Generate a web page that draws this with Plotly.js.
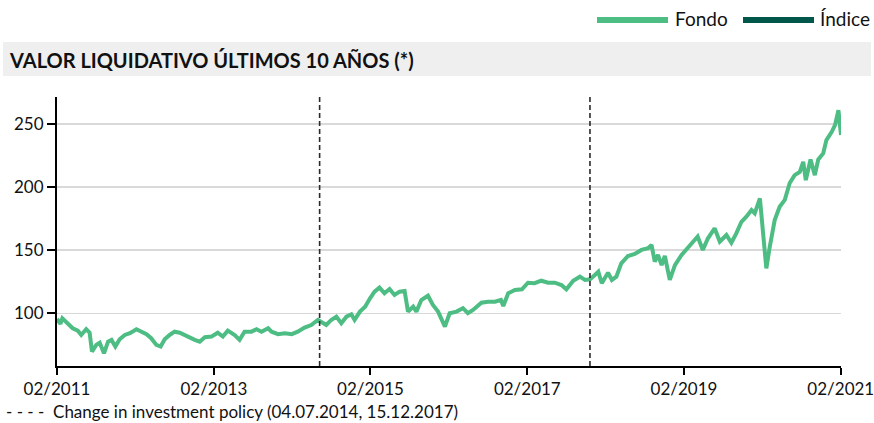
<!DOCTYPE html>
<html>
<head>
<meta charset="utf-8">
<script src="https://cdn.plot.ly/plotly-3.0.1.min.js"></script>
<style>
html,body{margin:0;padding:0;background:#fff;}
#chart{width:874px;height:423px;}
</style>
</head>
<body>
<div id="chart"></div>
<script>
// ---- Data ----
const fondoDates = [
 '2011-02-26','2011-03-14','2011-03-23','2011-04-10','2011-04-25','2011-05-10','2011-06-03','2011-06-19','2011-07-12','2011-07-28',
 '2011-08-08','2011-08-28','2011-09-13','2011-10-03','2011-10-22','2011-11-07','2011-11-25','2011-12-15','2012-01-08','2012-02-01',
 '2012-03-02','2012-03-25','2012-04-18','2012-05-10','2012-06-03','2012-06-23','2012-07-12','2012-08-04','2012-08-27','2012-09-20',
 '2012-10-13','2012-11-06','2012-11-29','2012-12-22','2013-01-15','2013-02-15','2013-03-16','2013-04-09','2013-05-02','2013-06-03',
 '2013-06-26','2013-07-19','2013-08-20','2013-09-13','2013-10-06','2013-11-06','2013-11-22','2013-12-22','2014-01-23','2014-02-24',
 '2014-03-24','2014-04-25','2014-05-26','2014-06-26','2014-07-19','2014-08-04','2014-08-27','2014-09-20','2014-10-13','2014-11-06',
 '2014-11-29','2014-12-14','2015-01-08','2015-02-01','2015-02-24','2015-03-17','2015-04-09','2015-05-02','2015-05-26','2015-06-18',
 '2015-07-12','2015-08-04','2015-08-20','2015-09-13','2015-09-28','2015-10-21','2015-11-21','2015-12-14','2016-01-07','2016-02-08',
 '2016-03-01','2016-04-02','2016-05-02','2016-05-25','2016-06-18','2016-07-11','2016-07-27','2016-08-27','2016-09-28','2016-10-26',
 '2016-11-06','2016-11-29','2016-12-30','2017-02-01','2017-03-01','2017-04-01','2017-05-02','2017-06-03','2017-07-04','2017-08-04',
 '2017-08-27','2017-09-28','2017-10-29','2017-11-22','2017-12-15','2018-01-07','2018-01-23','2018-02-08','2018-02-27','2018-03-09',
 '2018-03-27','2018-04-17','2018-05-10','2018-06-10','2018-07-12','2018-08-12','2018-09-12','2018-09-28','2018-10-13','2018-10-28',
 '2018-11-14','2018-11-29','2018-12-22','2019-01-15','2019-02-15','2019-03-16','2019-04-09','2019-05-01','2019-05-25','2019-06-18',
 '2019-07-19','2019-08-12','2019-09-12','2019-10-05','2019-10-28','2019-11-21','2019-12-14','2020-01-07','2020-01-22','2020-02-15',
 '2020-03-01','2020-03-16','2020-04-01','2020-04-24','2020-05-17','2020-06-10','2020-07-03','2020-07-26','2020-08-19','2020-09-04',
 '2020-09-16','2020-10-08','2020-10-28','2020-11-13','2020-12-06','2020-12-21','2021-01-15','2021-01-30','2021-02-15','2021-02-27'
];
const fondoValues = [
 95.5, 91.5, 96.0, 92.6, 90.7, 88.1, 86.2, 82.8, 87.3, 84.6,
 69.6, 74.9, 76.7, 68.3, 77.5, 78.9, 73.6, 79.4, 82.8, 84.2,
 87.3, 85.4, 83.4, 80.2, 74.9, 73.6, 79.4, 82.8, 85.4, 84.6,
 82.8, 80.2, 78.9, 77.5, 81.0, 81.5, 84.6, 81.5, 86.2, 82.8,
 78.9, 85.4, 85.4, 87.3, 85.4, 88.1, 85.4, 83.4, 84.2, 83.4,
 85.4, 88.6, 90.7, 94.7, 92.1, 90.7, 94.7, 97.3, 92.1, 97.3,
 99.2, 94.7, 101.3, 105.2, 111.9, 117.1, 120.3, 115.8, 119.2, 114.5,
 117.1, 117.7, 101.3, 105.2, 101.3, 110.5, 113.9, 106.6, 101.3, 89.4,
 100.0, 101.3, 104.0, 100.0, 102.6, 106.6, 108.4, 109.2, 109.2, 110.5,
 105.8, 115.8, 118.4, 119.0, 124.2, 123.8, 125.8, 124.2, 124.2, 122.4,
 119.0, 125.8, 129.0, 126.4, 126.9, 130.3, 132.9, 123.8, 130.3, 132.1,
 126.4, 129.0, 139.6, 145.4, 147.0, 150.2, 151.5, 154.1, 140.9, 146.2,
 138.2, 145.4, 126.4, 138.2, 146.2, 152.3, 156.8, 160.8, 150.2, 159.4,
 167.3, 156.8, 162.0, 155.9, 163.3, 172.5, 176.5, 181.8, 179.2, 191.1,
 163.3, 135.6, 152.7, 173.9, 184.4, 189.9, 203.2, 209.5, 212.1, 220.0,
 205.5, 221.9, 209.5, 221.9, 226.7, 237.2, 243.8, 249.1, 261.0, 241.2
];
const policyChangeDates = ['2014-07-04', '2017-12-15'];
const xTickVals = ['2011-02-26','2013-02-26','2015-02-26','2017-02-26','2019-02-26','2021-02-26'];
const xTickText = ['02/2011','02/2013','02/2015','02/2017','02/2019','02/2021'];
const yTickVals = [100, 150, 200, 250];
const seriesNames = ['Fondo', 'Índice'];
const titleText = 'VALOR LIQUIDATIVO ÚLTIMOS 10 AÑOS (*)';
const footnoteText = '- - - -  Change in investment policy (04.07.2014, 15.12.2017)';

// ---- Styling ----
const FONT = 'Lato, "Open Sans", sans-serif';
const fondoColor = '#4dbd84';
const indiceColor = '#00574a';

// plot area in pixels: x 57..841, y 97..366
const L = 57, R = 841, T = 97, B = 366;
const px = v => (v - L) / (R - L);
const py = v => (B - v) / (B - T);

const traces = [{
  type: 'scatter',
  mode: 'lines',
  name: seriesNames[0],
  x: fondoDates,
  y: fondoValues,
  line: {color: fondoColor, width: 4},
  showlegend: false,
  hoverinfo: 'x+y'
}];

const shapes = [];
// title bar
shapes.push({type:'rect', xref:'paper', yref:'paper', x0:px(3), x1:px(871), y0:py(76), y1:py(42),
  fillcolor:'#efefef', line:{width:0}, layer:'below'});
// policy change lines
policyChangeDates.forEach(d => shapes.push({
  type:'line', xref:'x', yref:'paper', x0:d, x1:d, y0:0, y1:1,
  line:{color:'#2a2a2a', width:1.6, dash:'5px,3px'}
}));
// legend samples
shapes.push({type:'line', xref:'paper', yref:'paper', x0:px(597), x1:px(668), y0:py(20), y1:py(20),
  line:{color:fondoColor, width:6}});
shapes.push({type:'line', xref:'paper', yref:'paper', x0:px(743), x1:px(814), y0:py(20), y1:py(20),
  line:{color:indiceColor, width:6}});

const annotations = [
  {xref:'paper', yref:'paper', x:px(7), y:py(60), xanchor:'left', yanchor:'middle', showarrow:false,
   text:'<b>'+titleText+'</b>', font:{family:FONT, size:20, color:'#111'}},
  {xref:'paper', yref:'paper', x:px(673), y:py(19), xanchor:'left', yanchor:'middle', showarrow:false,
   text:seriesNames[0], font:{family:FONT, size:19, color:'#111'}},
  {xref:'paper', yref:'paper', x:px(818), y:py(19), xanchor:'left', yanchor:'middle', showarrow:false,
   text:seriesNames[1], font:{family:FONT, size:19, color:'#111'}},
  {xref:'paper', yref:'paper', x:px(4), y:py(411), xanchor:'left', yanchor:'middle', showarrow:false,
   text:footnoteText, font:{family:FONT, size:17, color:'#111'}}
];

const layout = {
  width: 874, height: 423,
  margin: {l: L, r: 874 - R, t: T, b: 423 - B, pad: 0},
  paper_bgcolor: '#ffffff', plot_bgcolor: '#ffffff',
  font: {family: FONT, size: 17, color: '#111'},
  showlegend: false,
  xaxis: {
    type: 'date',
    range: ['2011-02-26', '2021-02-27'],
    tickmode: 'array', tickvals: xTickVals, ticktext: xTickText,
    ticklabeloverflow: 'allow',
    showgrid: false, zeroline: false,
    showline: true, linecolor: '#000', linewidth: 2,
    ticks: 'outside', ticklen: 7, tickwidth: 2, tickcolor: '#000',
    tickfont: {family: FONT, size: 17, color: '#111'}
  },
  yaxis: {
    range: [58.2, 271.4],
    tickmode: 'array', tickvals: yTickVals,
    showgrid: true, gridcolor: '#d9d9d9', gridwidth: 1.5,
    zeroline: false,
    showline: true, linecolor: '#000', linewidth: 2,
    ticks: 'outside', ticklen: 8, tickwidth: 2, tickcolor: '#000',
    tickfont: {family: FONT, size: 17, color: '#111'}
  },
  shapes: shapes,
  annotations: annotations
};

Plotly.newPlot('chart', traces, layout, {displayModeBar: false, staticPlot: true});
</script>
</body>
</html>
